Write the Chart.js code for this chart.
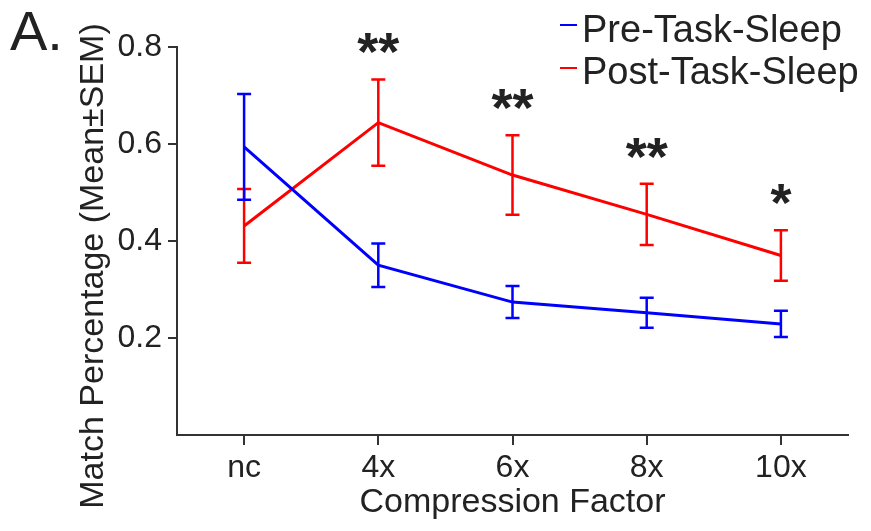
<!DOCTYPE html>
<html>
<head>
<meta charset="utf-8">
<script src="https://cdn.jsdelivr.net/npm/chart.js@4.4.1/dist/chart.umd.min.js"></script>
<style>html,body{margin:0;background:#fff}</style>
</head>
<body>
<canvas id="grafica" width="871" height="531"></canvas>
<script>
// ── DATOS ─────────────────────────────────────────────────────
const CATEGORIAS = ['nc', '4x', '6x', '8x', '10x'];
const PRE_MEDIA = [0.594, 0.350, 0.274, 0.252, 0.229];
const PRE_SEM = [0.109, 0.045, 0.033, 0.031, 0.027];
const POST_MEDIA = [0.431, 0.644, 0.536, 0.455, 0.370];
const POST_SEM = [0.076, 0.089, 0.082, 0.063, 0.052];
const SIGNIFICANCIA = ['', '**', '**', '**', '*'];
const Y_TICKS = [0.2, 0.4, 0.6, 0.8];
const TITULO_Y = 'Match Percentage (Mean±SEM)';

const FUENTE = '"Liberation Sans", Arial, sans-serif';
const TINTA = '#222';
const EJE = '#333';

// ── PLUGINS ───────────────────────────────────────────────────
const barrasError = {
    id: 'barrasError',
    afterDatasetDraw(chart, args) {
        const ds = chart.data.datasets[args.index];
        if (!ds.sem) return;
        const y = chart.scales.y;
        const ctx = chart.ctx;
        ctx.save();
        ctx.strokeStyle = ds.borderColor;
        ctx.lineWidth = 2.5;
        args.meta.data.forEach((pt, i) => {
            const arriba = y.getPixelForValue(ds.data[i] + ds.sem[i]);
            const abajo = y.getPixelForValue(ds.data[i] - ds.sem[i]);
            ctx.beginPath();
            ctx.moveTo(pt.x, arriba); ctx.lineTo(pt.x, abajo);
            ctx.moveTo(pt.x - 7, arriba); ctx.lineTo(pt.x + 7, arriba);
            ctx.moveTo(pt.x - 7, abajo); ctx.lineTo(pt.x + 7, abajo);
            ctx.stroke();
        });
        ctx.restore();
    }
};

const anotaciones = {
    id: 'anotaciones',
    afterDraw(chart) {
        const ctx = chart.ctx;
        const x = chart.scales.x;
        const y = chart.scales.y;
        ctx.save();
        ctx.fillStyle = TINTA;

        // panel
        ctx.font = `56px ${FUENTE}`;
        ctx.textAlign = 'left';
        ctx.textBaseline = 'alphabetic';
        ctx.fillText('A.', 10, 50);

        // titulo del eje y (un poco desplazado hacia abajo, como en la figura)
        ctx.save();
        ctx.translate(103, 266);
        ctx.rotate(-Math.PI / 2);
        ctx.font = `34px ${FUENTE}`;
        ctx.textAlign = 'center';
        ctx.fillText(TITULO_Y, 0, 0);
        ctx.restore();

        // asteriscos sobre la barra superior de Post
        ctx.font = `bold 54px ${FUENTE}`;
        ctx.textAlign = 'center';
        SIGNIFICANCIA.forEach((s, i) => {
            if (!s) return;
            const tope = y.getPixelForValue(POST_MEDIA[i] + POST_SEM[i]);
            ctx.fillText(s, x.getPixelForValue(i), tope - 9);
        });

        // leyenda
        ctx.font = `38px ${FUENTE}`;
        ctx.textAlign = 'left';
        chart.data.datasets.forEach((ds, i) => {
            const ly = 25 + i * 43;
            ctx.strokeStyle = ds.borderColor;
            ctx.lineWidth = 2;
            ctx.beginPath();
            ctx.moveTo(560, ly); ctx.lineTo(577, ly);
            ctx.stroke();
            ctx.fillStyle = TINTA;
            ctx.fillText(ds.label, 582, 42 + i * 42);
        });
        ctx.restore();
    }
};

// ── GRAFICA ───────────────────────────────────────────────────
new Chart(document.getElementById('grafica'), {
    type: 'line',
    data: {
        labels: CATEGORIAS,
        datasets: [
            {
                label: 'Pre-Task-Sleep',
                data: PRE_MEDIA,
                sem: PRE_SEM,
                borderColor: '#0000ff',
                borderWidth: 3,
                pointRadius: 0,
                tension: 0,
            },
            {
                label: 'Post-Task-Sleep',
                data: POST_MEDIA,
                sem: POST_SEM,
                borderColor: '#ff0000',
                borderWidth: 3,
                pointRadius: 0,
                tension: 0,
            },
        ],
    },
    options: {
        responsive: false,
        animation: false,
        layout: { padding: { left: 69, top: 47, right: 23, bottom: 0 } },
        plugins: { legend: { display: false }, tooltip: { enabled: false } },
        scales: {
            x: {
                type: 'category',
                offset: true,
                afterFit: s => { s.height = 96; },
                border: { color: EJE, width: 2 },
                grid: { offset: false, drawOnChartArea: false, tickLength: 10, color: EJE, lineWidth: 2 },
                ticks: { color: TINTA, font: { family: FUENTE, size: 32 }, padding: 4, maxRotation: 0 },
                title: {
                    display: true,
                    text: 'Compression Factor',
                    color: TINTA,
                    font: { family: FUENTE, size: 34 },
                    padding: { top: 0, bottom: 8 },
                },
            },
            y: {
                min: 0,
                max: 0.8,
                afterBuildTicks: s => { s.ticks = Y_TICKS.map(v => ({ value: v })); },
                afterFit: s => { s.width = 108; },
                border: { color: EJE, width: 2 },
                grid: { drawOnChartArea: false, tickLength: 9, color: EJE, lineWidth: 2 },
                ticks: {
                    color: TINTA,
                    font: { family: FUENTE, size: 32 },
                    padding: 6,
                    callback: v => v.toFixed(1),
                },
            },
        },
    },
    plugins: [barrasError, anotaciones],
});
</script>
</body>
</html>
